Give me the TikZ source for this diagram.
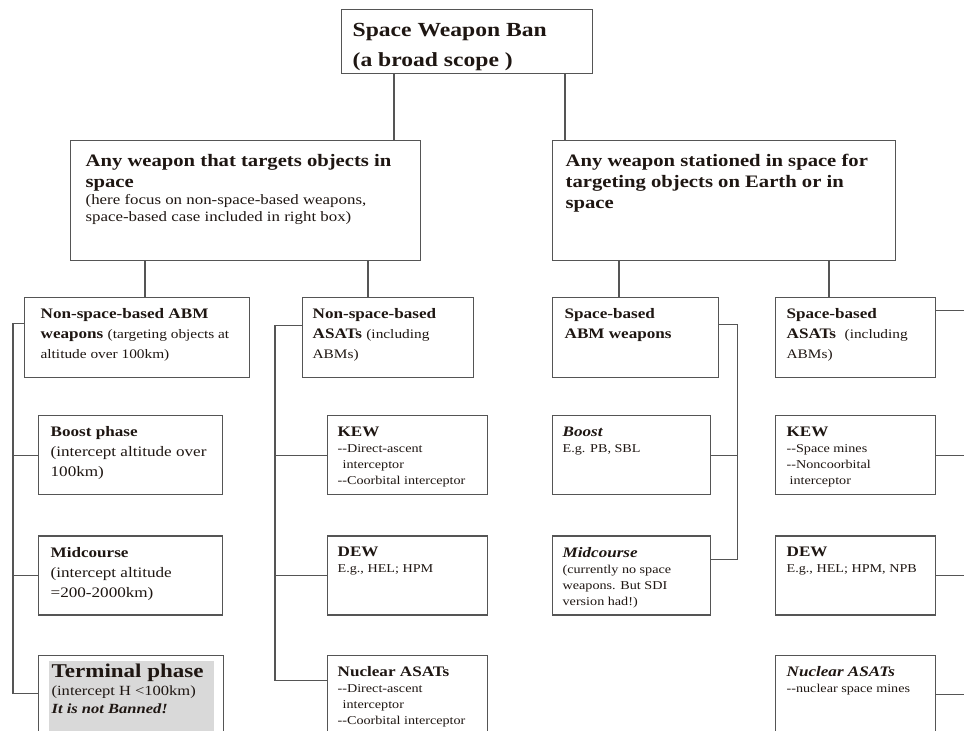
\documentclass[tikz,border=0pt]{standalone}
\usepackage{fontspec}
\setmainfont{Liberation Serif}[FakeStretch=1.18]
\usetikzlibrary{positioning}

\definecolor{linec}{RGB}{85,85,85}
\definecolor{textc}{RGB}{30,22,18}
\definecolor{shadec}{RGB}{217,217,217}

\newcommand\cell[3]{\parbox[c][#2][t]{#1}{\raggedright #3}}
\newcommand\fTitle{\fontsize{20}{30}\selectfont\bfseries}
\newcommand\fHead{\fontsize{17.5}{21}\selectfont\bfseries}
\newcommand\fHeadNote{\fontsize{14.3}{17}\selectfont\mdseries}
\newcommand\fCat{\fontsize{14.5}{20}\selectfont\bfseries}
\newcommand\fNote{\fontsize{13}{20}\selectfont\mdseries}
\newcommand\fBody{\fontsize{14.5}{20}\selectfont\mdseries}
\newcommand\fSmall{\fontsize{12}{16}\selectfont\mdseries}
\newcommand\fTerm{\fontsize{19.5}{24}\selectfont\bfseries}

\begin{document}
\begin{tikzpicture}[x=1pt,y=-1pt,
    wbox/.style={draw=linec,line width=1.3pt,fill=white,text=textc,
      anchor=north west,inner ysep=11pt},
    link/.style={draw=linec,line width=1.3pt}]
  \useasboundingbox (0,0) rectangle (964,731);
  \clip (0,0) rectangle (964,731);

  % top and second level
  \node[wbox,inner xsep=11pt,inner ysep=14pt] (ban) at (341,9)
    {\cell{229pt}{36pt}{\fTitle Space Weapon Ban\\(a broad scope )}};
  \node[wbox,inner xsep=15pt,inner ysep=14pt] (tgtspace) at (70,140)
    {\cell{320pt}{92pt}{\fHead Any weapon that targets objects in\\space\par
     {\fHeadNote (here focus on non-space-based weapons,\\space-based case included in right box)\par}}};
  \node[wbox,inner xsep=13pt,inner ysep=14pt] (stationed) at (552,140)
    {\cell{317pt}{92pt}{\fHead Any weapon stationed in space for\\targeting objects on Earth or in\\space}};

  % third level
  \node[wbox,inner xsep=16pt] (nsabm) at (24,297)
    {\cell{193pt}{58pt}{\fCat Non-space-based ABM\\weapons {\fNote (targeting objects at\\altitude over 100km)}}};
  \node[wbox,inner xsep=10pt] (nsasat) at (302,297)
    {\cell{151pt}{58pt}{\fCat Non-space-based\\ASATs {\fNote (including\\ABMs)}}};
  \node[wbox,inner xsep=12pt] (sbabm) at (552,297)
    {\cell{142pt}{58pt}{\fCat Space-based\\ABM weapons}};
  \node[wbox,inner xsep=11pt] (sbasat) at (775,297)
    {\cell{138pt}{58pt}{\fCat Space-based\\ASATs\ \ {\fNote (including\\ABMs)}}};

  % non-space-based ABM
  \node[wbox,inner xsep=12pt] (boost) at (38,415)
    {\cell{160pt}{57pt}{\fCat Boost phase\par\fBody (intercept altitude over\\100km)}};
  \node[wbox,inner xsep=12pt,below=40pt of boost.south west,anchor=north west] (midabm)
    {\cell{160pt}{57pt}{\fCat Midcourse\par\fBody (intercept altitude\\=200-2000km)}};
  \node[wbox,inner xsep=10pt,inner ysep=6pt,below=39pt of midabm.south west,anchor=north west] (terminal)
    {\setlength\fboxsep{3pt}\colorbox{shadec}{\cell{159pt}{72pt}{\fTerm Terminal phase\par
     \fontsize{14}{18}\selectfont\mdseries (intercept H <100km)\\\bfseries\itshape It is not Banned!}}};

  % non-space-based ASATs
  \node[wbox,inner xsep=10pt] (kewg) at (327,415)
    {\cell{140pt}{57pt}{\fCat KEW\par\fSmall -{}-Direct-ascent\\\hspace*{5pt}interceptor\\-{}-Coorbital interceptor}};
  \node[wbox,inner xsep=10pt,below=40pt of kewg.south west,anchor=north west] (dewg)
    {\cell{140pt}{57pt}{\fCat DEW\par\fSmall E.g., HEL; HPM}};
  \node[wbox,inner xsep=10pt,below=39pt of dewg.south west,anchor=north west] (nukeg)
    {\cell{140pt}{68pt}{\fCat Nuclear ASATs\par\fSmall -{}-Direct-ascent\\\hspace*{5pt}interceptor\\-{}-Coorbital interceptor}};

  % space-based ABM
  \node[wbox,inner xsep=10pt] (boostsb) at (552,415)
    {\cell{138pt}{57pt}{{\fCat\itshape Boost\par}\fSmall E.g. PB, SBL}};
  \node[wbox,inner xsep=10pt,below=40pt of boostsb.south west,anchor=north west] (midsb)
    {\cell{138pt}{57pt}{{\fCat\itshape Midcourse\par}\fSmall (currently no space\\weapons. But SDI\\version had!)}};

  % space-based ASATs
  \node[wbox,inner xsep=11pt] (kews) at (775,415)
    {\cell{138pt}{57pt}{\fCat KEW\par\fSmall -{}-Space mines\\-{}-Noncoorbital\\\hspace*{3pt}interceptor}};
  \node[wbox,inner xsep=11pt,below=40pt of kews.south west,anchor=north west] (dews)
    {\cell{138pt}{57pt}{\fCat DEW\par\fSmall E.g., HEL; HPM, NPB}};
  \node[wbox,inner xsep=11pt,below=39pt of dews.south west,anchor=north west] (nukes)
    {\cell{138pt}{68pt}{{\fCat\itshape Nuclear ASATs\par}\fSmall -{}-nuclear space mines}};

  % tree links
  \coordinate (banL) at ([xshift=53pt]ban.south west);
  \coordinate (banR) at ([xshift=224pt]ban.south west);
  \draw[link] (banL) -- (banL |- tgtspace.north);
  \draw[link] (banR) -- (banR |- stationed.north);
  \coordinate (tsL) at ([xshift=75pt]tgtspace.south west);
  \coordinate (tsR) at ([xshift=298pt]tgtspace.south west);
  \coordinate (stL) at ([xshift=67pt]stationed.south west);
  \coordinate (stR) at ([xshift=277pt]stationed.south west);
  \draw[link] (tsL) -- (tsL |- nsabm.north);
  \draw[link] (tsR) -- (tsR |- nsasat.north);
  \draw[link] (stL) -- (stL |- sbabm.north);
  \draw[link] (stR) -- (stR |- sbasat.north);

  % spines
  \coordinate (lspine) at ([xshift=-11pt,yshift=14pt]nsabm.west);
  \draw[link] ([yshift=14pt]nsabm.west) -- (lspine) |- ([yshift=7pt]terminal.west);
  \draw[link] (lspine) |- (boost.west);
  \draw[link] (lspine) |- (midabm.west);

  \coordinate (mspine) at ([xshift=-27pt,yshift=12pt]nsasat.west);
  \draw[link] ([yshift=12pt]nsasat.west) -- (mspine) |- ([yshift=20pt]nukeg.west);
  \draw[link] (mspine) |- (kewg.west);
  \draw[link] (mspine) |- (dewg.west);

  \coordinate (aspine) at ([xshift=18pt,yshift=13pt]sbabm.east);
  \draw[link] ([yshift=13pt]sbabm.east) -- (aspine) |- ([yshift=16pt]midsb.east);
  \draw[link] (aspine) |- (boostsb.east);

  \coordinate (rspine) at ([xshift=40pt,yshift=27pt]sbasat.east);
  \draw[link] ([yshift=27pt]sbasat.east) -- (rspine) |- ([yshift=6pt]nukes.east);
  \draw[link] (rspine) |- (kews.east);
  \draw[link] (rspine) |- (dews.east);
\end{tikzpicture}
\end{document}
